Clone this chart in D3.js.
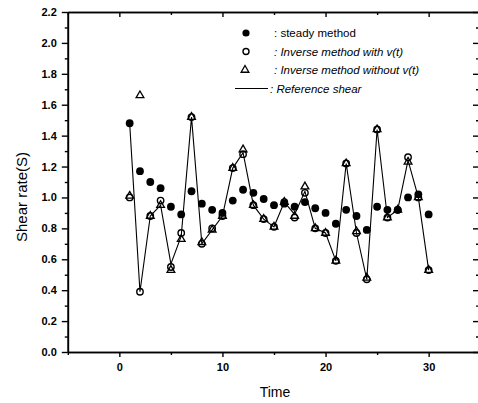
<!DOCTYPE html>
<html><head><meta charset="utf-8">
<script src="https://cdn.jsdelivr.net/npm/d3@7"></script>
<style>
body{margin:0;background:#fff}
text{font-family:"Liberation Sans",Arial,Helvetica,sans-serif;fill:#000}
</style>
</head><body>
<svg id="c" width="478" height="403"></svg>
<script>
const time = [1,2,3,4,5,6,7,8,9,10,11,12,13,14,15,16,17,18,19,20,21,22,23,24,25,26,27,28,29,30];
const steady = [1.48,1.17,1.10,1.06,0.94,0.89,1.04,0.96,0.92,0.90,0.98,1.05,1.03,0.99,0.95,0.96,0.94,0.97,0.93,0.90,0.83,0.92,0.88,0.79,0.94,0.92,0.92,1.00,1.02,0.89];
const inverseWithV = [1.00,0.39,0.88,0.98,0.55,0.77,1.52,0.70,0.80,0.88,1.19,1.28,0.95,0.86,0.81,0.97,0.87,1.03,0.80,0.77,0.59,1.22,0.77,0.47,1.44,0.87,0.92,1.26,1.00,0.53];
const inverseWithoutV = [1.01,1.66,0.88,0.95,0.53,0.73,1.52,0.71,0.79,0.88,1.19,1.31,0.95,0.86,0.81,0.97,0.88,1.07,0.80,0.77,0.59,1.22,0.78,0.48,1.44,0.87,0.92,1.23,1.00,0.53];
const reference = [1.48,0.39,0.88,0.95,0.57,0.75,1.52,0.70,0.79,0.88,1.19,1.29,0.95,0.86,0.81,0.97,0.89,1.04,0.80,0.77,0.59,1.22,0.77,0.47,1.44,0.87,0.92,1.24,1.00,0.53];
const yTicks = [0,0.2,0.4,0.6,0.8,1.0,1.2,1.4,1.6,1.8,2.0,2.2];
const yMinor = [0.1,0.3,0.5,0.7,0.9,1.1,1.3,1.5,1.7,1.9,2.1];
const xTicks = [0,10,20,30];
const xMinor = [-5,5,15,25,35];
const legendLabels = [": steady method", ": Inverse method with v(t)", ": Inverse method without v(t)", ": Reference shear"];

const svg = d3.select("#c");
svg.append("rect").attr("width",478).attr("height",403).attr("fill","#fff");
const x = d3.scaleLinear().domain([-5,35]).range([67.8,480.2]);
const y = d3.scaleLinear().domain([0,2.2]).range([352,12]);

function styleAxis(g){
  g.selectAll(".domain").attr("stroke","#000").attr("stroke-width",1.6);
  g.selectAll(".tick line").attr("stroke","#000").attr("stroke-width",1.4);
  g.selectAll("text").attr("font-size","11px").attr("font-weight","bold").attr("fill","#000");
}
// left
svg.append("g").attr("transform","translate(67.8,0)")
  .call(d3.axisLeft(y).tickValues(yTicks).tickSize(6).tickSizeOuter(0).tickPadding(5).tickFormat(d3.format(".1f")))
  .call(styleAxis);
svg.append("g").attr("transform","translate(67.8,0)")
  .call(d3.axisLeft(y).tickValues(yMinor).tickSize(3).tickSizeOuter(0).tickFormat(""))
  .call(styleAxis);
// right
svg.append("g").attr("transform","translate(479,0)")
  .call(d3.axisRight(y).tickValues(yTicks).tickSize(-6).tickSizeOuter(0).tickFormat(""))
  .call(styleAxis);
svg.append("g").attr("transform","translate(479,0)")
  .call(d3.axisRight(y).tickValues(yMinor).tickSize(-3).tickSizeOuter(0).tickFormat(""))
  .call(styleAxis);
// bottom
svg.append("g").attr("transform","translate(0,352)")
  .call(d3.axisBottom(x).tickValues(xTicks).tickSize(5).tickSizeOuter(0).tickPadding(6).tickFormat(d3.format("d")))
  .call(styleAxis);
svg.append("g").attr("transform","translate(0,352)")
  .call(d3.axisBottom(x).tickValues(xMinor).tickSize(3).tickSizeOuter(0).tickFormat(""))
  .call(styleAxis);
// top
svg.append("g").attr("transform","translate(0,12)")
  .call(d3.axisTop(x).tickValues(xTicks).tickSize(-5).tickSizeOuter(0).tickFormat(""))
  .call(styleAxis);
svg.append("g").attr("transform","translate(0,12)")
  .call(d3.axisTop(x).tickValues(xMinor).tickSize(-3).tickSizeOuter(0).tickFormat(""))
  .call(styleAxis);

// axis titles
svg.append("text").attr("x",275).attr("y",397).attr("text-anchor","middle").attr("font-size","14px").text("Time");
svg.append("text").attr("transform","translate(27,197) rotate(-90)").attr("text-anchor","middle").attr("font-size","15px").text("Shear rate(S)");

// reference line
const line = d3.line().x((d,i)=>x(time[i])).y(d=>y(d));
svg.append("path").datum(reference).attr("d",line).attr("fill","none").attr("stroke","#000").attr("stroke-width",1.1);

// markers
const tri = d3.symbol().type(d3.symbolTriangle).size(26);
svg.append("g").selectAll("path").data(inverseWithoutV).join("path")
  .attr("d",tri).attr("transform",(d,i)=>`translate(${x(time[i])},${y(d)})`)
  .attr("fill","none").attr("stroke","#000").attr("stroke-width",1.3);
svg.append("g").selectAll("circle").data(inverseWithV).join("circle")
  .attr("cx",(d,i)=>x(time[i])).attr("cy",d=>y(d)).attr("r",3.2)
  .attr("fill","none").attr("stroke","#000").attr("stroke-width",1.4);
svg.append("g").selectAll("circle").data(steady).join("circle")
  .attr("cx",(d,i)=>x(time[i])).attr("cy",d=>y(d)).attr("r",3.9).attr("fill","#000");

// legend
const lg = svg.append("g");
const rowsY = [33,51.5,70,88.5];
lg.append("circle").attr("cx",246).attr("cy",rowsY[0]).attr("r",3.6).attr("fill","#000");
lg.append("circle").attr("cx",246).attr("cy",rowsY[1]).attr("r",3).attr("fill","none").attr("stroke","#000").attr("stroke-width",1.4);
lg.append("path").attr("d",tri).attr("transform",`translate(245,${rowsY[2]})`).attr("fill","none").attr("stroke","#000").attr("stroke-width",1.3);
lg.append("line").attr("x1",235).attr("x2",268).attr("y1",rowsY[3]).attr("y2",rowsY[3]).attr("stroke","#000").attr("stroke-width",1.1);
legendLabels.forEach((t,i)=>{
  lg.append("text").attr("x",i===3?270:274).attr("y",rowsY[i]+4).attr("font-size","11.5px")
    .attr("font-style",i===0?"normal":"italic").text(t);
});
</script>
</body></html>
